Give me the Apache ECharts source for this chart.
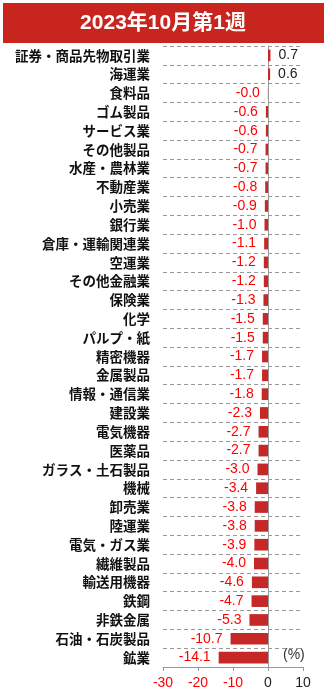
<!DOCTYPE html>
<html>
<head>
<meta charset="utf-8">
<script src="https://cdn.jsdelivr.net/npm/echarts@6/dist/echarts.min.js"></script>
<style>
  html, body { margin: 0; padding: 0; background: #fff; }
  #main { width: 328px; height: 696px; }
</style>
</head>
<body>
<div id="main"></div>
<script>
// 業種名（上から順）
const sectors = [
  '証券・商品先物取引業', '海運業', '食料品', 'ゴム製品', 'サービス業', 'その他製品',
  '水産・農林業', '不動産業', '小売業', '銀行業', '倉庫・運輸関連業', '空運業',
  'その他金融業', '保険業', '化学', 'パルプ・紙', '精密機器', '金属製品',
  '情報・通信業', '建設業', '電気機器', '医薬品', 'ガラス・土石製品', '機械',
  '卸売業', '陸運業', '電気・ガス業', '繊維製品', '輸送用機器', '鉄鋼',
  '非鉄金属', '石油・石炭製品', '鉱業'
];
// 騰落率 (%)
const changes = [
  0.7, 0.6, -0.04, -0.6, -0.6, -0.7,
  -0.7, -0.8, -0.9, -1.0, -1.1, -1.2,
  -1.2, -1.3, -1.5, -1.5, -1.7, -1.7,
  -1.8, -2.3, -2.7, -2.7, -3.0, -3.4,
  -3.8, -3.8, -3.9, -4.0, -4.6, -4.7,
  -5.3, -10.7, -14.1
];
const xTicks = [-30, -20, -10, 0, 10];
const titleText = '2023年10月第1週';

const numFont = '"Liberation Sans", Arial, sans-serif';
const jpFont = '"Noto Sans CJK JP", sans-serif';

const chart = echarts.init(document.getElementById('main'));
chart.setOption({
  animation: false,
  graphic: [
    {
      type: 'rect',
      shape: { x: 3, y: 3, width: 321, height: 40 },
      style: { fill: '#c8251f' }
    },
    {
      type: 'text',
      x: 163, y: 23,
      style: {
        text: titleText,
        fill: '#fff',
        font: 'bold 21px ' + '"Liberation Sans", "Noto Sans CJK JP", sans-serif',
        align: 'center',
        verticalAlign: 'middle'
      }
    },
    {
      type: 'text',
      x: 283, y: 655,
      style: {
        text: '(%)',
        fill: '#333',
        font: '14px ' + numFont,
        verticalAlign: 'middle'
      }
    }
  ],
  grid: { left: 163, right: 25, top: 46, bottom: 29 },
  xAxis: {
    type: 'value',
    min: xTicks[0],
    max: xTicks[xTicks.length - 1],
    interval: 10,
    axisLine: { show: true, lineStyle: { color: '#999' } },
    axisTick: { show: true, length: 4, lineStyle: { color: '#999' } },
    splitLine: { show: false },
    axisLabel: {
      margin: 9,
      fontSize: 14,
      fontFamily: numFont,
      formatter: v => v < 0 ? '{neg|' + v + '}' : '{pos|' + v + '}',
      rich: {
        neg: { color: '#ff0000', fontSize: 14, fontFamily: numFont },
        pos: { color: '#222', fontSize: 14, fontFamily: numFont }
      }
    }
  },
  yAxis: {
    type: 'category',
    inverse: true,
    data: sectors,
    axisLine: { show: true, onZero: true, lineStyle: { color: '#999' } },
    axisTick: { show: false },
    axisLabel: {
      show: true,
      margin: 13,
      color: '#111',
      fontSize: 13.5,
      fontWeight: 'bold',
      fontFamily: jpFont
    },
    splitLine: {
      show: true,
      lineStyle: { color: '#999', type: [4, 3] }
    }
  },
  series: [{
    type: 'bar',
    data: changes.map(v => ({
      value: v,
      label: v < 0
        ? { position: 'left', color: '#ff0000' }
        : { position: 'right', color: '#222' }
    })),
    barWidth: '62%',
    itemStyle: { color: '#c62828' },
    label: {
      show: true,
      distance: 8,
      fontSize: 14,
      fontFamily: numFont,
      formatter: p => p.value.toFixed(1)
    }
  }]
});
</script>
</body>
</html>
